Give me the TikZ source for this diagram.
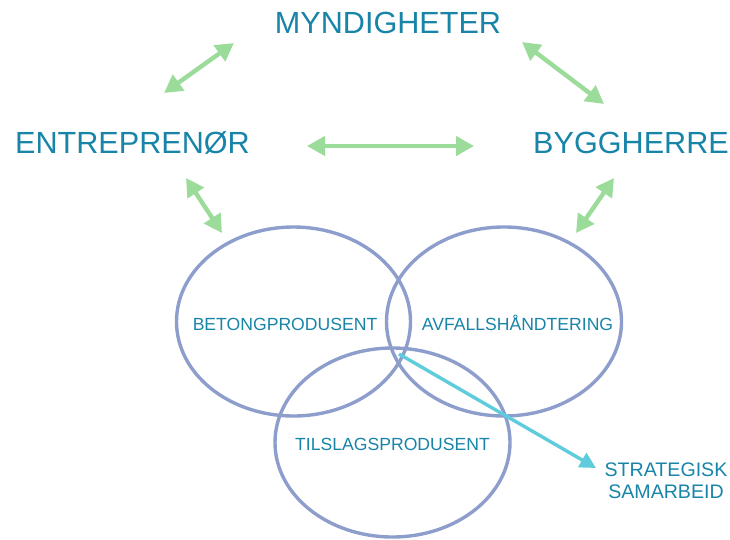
\documentclass[tikz,border=0pt]{standalone}
\usepackage{fontspec}
\setmainfont{Liberation Sans}
\usetikzlibrary{arrows.meta}
\definecolor{labelteal}{HTML}{1784A8}
\definecolor{ringblue}{HTML}{8E9ECC}
\definecolor{linkgreen}{HTML}{9BDC9B}
\definecolor{linkcyan}{HTML}{5ECCDC}
\tikzset{
  actor/.style={text=labelteal, font=\fontsize{30.6}{34}\selectfont, inner sep=0pt, anchor=base},
  field/.style={text=labelteal, font=\fontsize{17.6}{20}\selectfont, inner sep=0pt, anchor=base},
  ring/.style={draw=ringblue, line width=3.4pt},
  link/.style={draw=linkgreen, line width=4.4pt,
    {Triangle[length=18pt,width=19pt]}-{Triangle[length=18pt,width=19pt]}},
  pointer/.style={draw=linkcyan, line width=3.4pt, -{Triangle[length=16pt,width=16pt]}}
}
\begin{document}
\begin{tikzpicture}[x=1pt,y=-1pt]
  \useasboundingbox (0,0) rectangle (730,539);

  % the three overlapping fields
  \draw[ring] (293.5,321.5) ellipse [x radius=117, y radius=94.5];
  \draw[ring] (504,321.5) ellipse [x radius=117.5, y radius=94.5];
  \draw[ring] (392.5,442.5) ellipse [x radius=117.5, y radius=94.5];

  % actors
  \node[actor] (myn) at (388,33) {MYNDIGHETER};
  \node[actor] (ent) at (132.5,153) {ENTREPRENØR};
  \node[actor] (byg) at (631,153) {BYGGHERRE};

  % field labels
  \node[field] (bet) at (285,330) {BETONGPRODUSENT};
  \node[field] (avf) at (517.5,330) {AVFALLSHÅNDTERING};
  \node[field] (til) at (392.5,450) {TILSLAGSPRODUSENT};
  \node[text=labelteal, font=\fontsize{19.6}{22}\selectfont, inner sep=0pt,
        align=center, anchor=north] (str) at (666,462.5) {STRATEGISK\\SAMARBEID};

  % arrow end points
  \coordinate (mL) at (234,43);
  \coordinate (eT) at (164,93);
  \coordinate (mR) at (522,42);
  \coordinate (bT) at (604,104);
  \coordinate (eR) at (307,146);
  \coordinate (bL) at (474,146);
  \coordinate (eB) at (186,178);
  \coordinate (fL) at (222,233);
  \coordinate (bB) at (614,178);
  \coordinate (fR) at (576,233);
  \coordinate (core) at (399,354);
  \coordinate (strTip) at (596,468);

  % relations
  \draw[link] (eT) -- (mL);
  \draw[link] (mR) -- (bT);
  \draw[link] (eR) -- (bL);
  \draw[link] (eB) -- (fL);
  \draw[link] (bB) -- (fR);
  \draw[pointer] (core) -- (strTip);
\end{tikzpicture}
\end{document}
